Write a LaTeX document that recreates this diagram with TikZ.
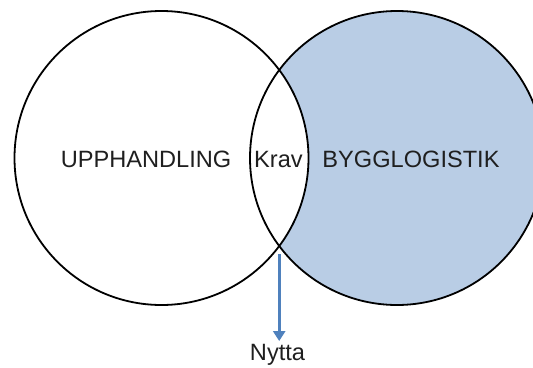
\documentclass[tikz,border=0pt]{standalone}
\usepackage{fontspec}
\setmainfont{Liberation Sans}
\usetikzlibrary{arrows.meta}
\definecolor{setblue}{RGB}{185,205,229}
\definecolor{arrowblue}{RGB}{79,129,189}
\tikzset{
  setcircle/.style={circle, minimum size=294pt, inner sep=0pt, line width=1.8pt, draw=black},
  label/.style={font=\fontsize{23.6}{28}\selectfont, text=black!88, inner sep=0pt, anchor=base},
  flow/.style={draw=arrowblue, line width=3pt, -{Triangle[width=12pt,length=10pt]}}
}
\begin{document}
\begin{tikzpicture}[x=1pt, y=-1pt]
  \useasboundingbox (0,0) rectangle (533,367);
  \clip (0,0) rectangle (533,367);
  % right set filled, overlap left white
  \fill[setblue] (397,158) circle (147pt);
  \begin{scope}
    \clip (161.5,158) circle (147pt);
    \fill[white] (397,158) circle (147pt);
  \end{scope}
  \node[setcircle] (upph) at (161.5,158) {};
  \node[setcircle] (bygg) at (397,158) {};
  % labels
  \node[label] (tupph) at (146,167) {UPPHANDLING};
  \node[label] (krav)  at (278.5,167.5) {Krav};
  \node[label] (tbygg) at (411,167) {BYGGLOGISTIK};
  \node[label] (nytta) at (277.5,360.5) {Nytta};
  % outcome arrow from the lower crossing point
  \coordinate (cross) at (279.2,254);
  \draw[flow, shorten >=3pt] (cross) -- (cross |- nytta.north);
\end{tikzpicture}
\end{document}
